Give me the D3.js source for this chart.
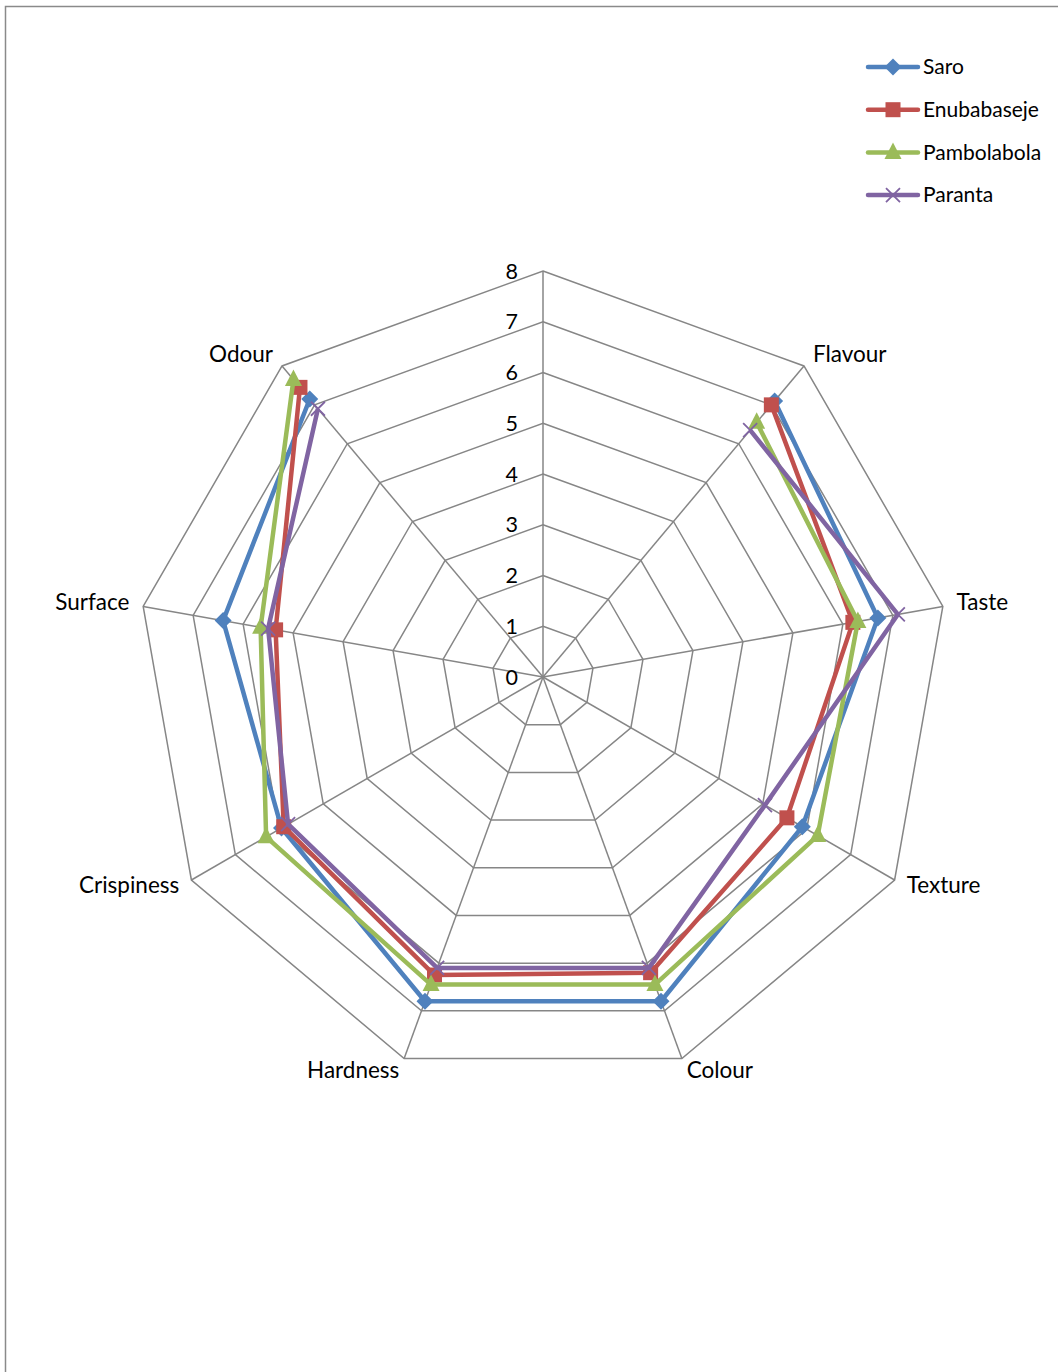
<!DOCTYPE html>
<html>
<head>
<meta charset="utf-8">
<script src="https://cdn.jsdelivr.net/npm/d3@7"></script>
<style>
  body { margin: 0; background: #fff; }
  svg { display: block; font-family: Lato, "Open Sans", sans-serif; }
</style>
</head>
<body>
<svg id="chart" width="1058" height="1372"></svg>
<script>
// Categories (the first spoke has no label and no values)
const categories = ["", "Flavour", "Taste", "Texture", "Colour", "Hardness", "Crispiness", "Surface", "Odour"];
const tickValues = [0, 1, 2, 3, 4, 5, 6, 7, 8];

// Series values
const saro        = [null, 7.1, 6.7, 5.9, 6.8, 6.8, 5.95, 6.4, 7.15];
const enubabaseje = [null, 7.0, 6.2, 5.55, 6.2, 6.25, 5.9, 5.35, 7.45];
const pambolabola = [null, 6.55, 6.3, 6.25, 6.45, 6.45, 6.3, 5.65, 7.65];
const paranta     = [null, 6.35, 7.1, 5.05, 6.1, 6.1, 5.8, 5.5, 6.9];

const seriesNames = ["Saro", "Enubabaseje", "Pambolabola", "Paranta"];
const seriesColors = ["#4F81BD", "#C0504D", "#9BBB59", "#8064A2"];
const seriesMarkers = ["diamond", "square", "triangle", "cross"];
const seriesValues = [saro, enubabaseje, pambolabola, paranta];

const svg = d3.select("#chart");

// Chart area border (only top and left edges are visible)
svg.append("rect")
  .attr("x", 5.5)
  .attr("y", 6.5)
  .attr("width", 2000)
  .attr("height", 2000)
  .attr("fill", "none")
  .attr("stroke", "#8a8a8a")
  .attr("stroke-width", 1.5);

const cx = 543, cy = 677;
const rScale = d3.scaleLinear().domain([0, 8]).range([0, 406]);
const angle = i => i * 2 * Math.PI / categories.length;

const g = svg.append("g").attr("transform", `translate(${cx}, ${cy})`);

// Grid polygons
const gridLine = d3.lineRadial()
  .angle((d, i) => angle(i))
  .radius(d => rScale(d))
  .curve(d3.curveLinearClosed);

g.selectAll(".grid")
  .data(tickValues.slice(1))
  .enter()
  .append("path")
  .attr("d", v => gridLine(categories.map(() => v)))
  .attr("fill", "none")
  .attr("stroke", "#868686")
  .attr("stroke-width", 1.5);

// Spokes
g.selectAll(".spoke")
  .data(categories)
  .enter()
  .append("line")
  .attr("x1", 0)
  .attr("y1", 0)
  .attr("x2", (d, i) => rScale(8) * Math.sin(angle(i)))
  .attr("y2", (d, i) => -rScale(8) * Math.cos(angle(i)))
  .attr("stroke", "#868686")
  .attr("stroke-width", 1.5);

// Tick labels along the top spoke
g.selectAll(".tick")
  .data(tickValues)
  .enter()
  .append("text")
  .attr("x", -25)
  .attr("y", d => -rScale(d))
  .attr("dy", "0.35em")
  .attr("text-anchor", "end")
  .attr("font-size", "21.5px")
  .attr("fill", "#000")
  .text(d => d);

// Category labels
g.selectAll(".cat")
  .data(categories)
  .enter()
  .append("text")
  .attr("x", (d, i) => (rScale(8) + 14) * Math.sin(angle(i)))
  .attr("y", (d, i) => -(rScale(8) + 14) * Math.cos(angle(i)))
  .attr("dy", "0.28em")
  .attr("text-anchor", (d, i) => Math.sin(angle(i)) > 0.01 ? "start" : (Math.sin(angle(i)) < -0.01 ? "end" : "middle"))
  .attr("font-size", "22.5px")
  .attr("fill", "#000")
  .text(d => d);

// Marker shapes
function drawMarker(sel, type, color) {
  if (type === "diamond") {
    sel.append("path").attr("d", "M0,-8.5L8.5,0L0,8.5L-8.5,0Z").attr("fill", color);
  } else if (type === "square") {
    sel.append("rect").attr("x", -7.5).attr("y", -7.5).attr("width", 15).attr("height", 15).attr("fill", color);
  } else if (type === "triangle") {
    sel.append("path").attr("d", "M0,-10L8.5,6.5L-8.5,6.5Z").attr("fill", color);
  } else {
    sel.append("path").attr("d", "M-7,-7L7,7M-7,7L7,-7").attr("stroke", color).attr("stroke-width", 1.8).attr("fill", "none");
  }
}

// Series lines and markers
const seriesLine = d3.lineRadial()
  .defined(d => d != null)
  .angle((d, i) => angle(i))
  .radius(d => rScale(d));

seriesValues.forEach((values, s) => {
  const sg = g.append("g");
  sg.append("path")
    .attr("d", seriesLine(values))
    .attr("fill", "none")
    .attr("stroke", seriesColors[s])
    .attr("stroke-width", 4.5)
    .attr("stroke-linejoin", "round");

  values.forEach((v, i) => {
    if (v == null) return;
    const m = sg.append("g")
      .attr("transform", `translate(${rScale(v) * Math.sin(angle(i))}, ${-rScale(v) * Math.cos(angle(i))})`);
    drawMarker(m, seriesMarkers[s], seriesColors[s]);
  });
});

// Legend
const legend = svg.append("g").attr("transform", "translate(868, 67)");
seriesNames.forEach((name, s) => {
  const row = legend.append("g").attr("transform", `translate(0, ${s * 42.7})`);
  row.append("line")
    .attr("x1", 0).attr("x2", 50)
    .attr("y1", 0).attr("y2", 0)
    .attr("stroke", seriesColors[s])
    .attr("stroke-width", 4.5)
    .attr("stroke-linecap", "round");
  const m = row.append("g").attr("transform", "translate(25, 0)");
  drawMarker(m, seriesMarkers[s], seriesColors[s]);
  row.append("text")
    .attr("x", 55)
    .attr("y", 0)
    .attr("dy", "0.35em")
    .attr("font-size", "21px")
    .attr("fill", "#000")
    .text(name);
});
</script>
</body>
</html>
